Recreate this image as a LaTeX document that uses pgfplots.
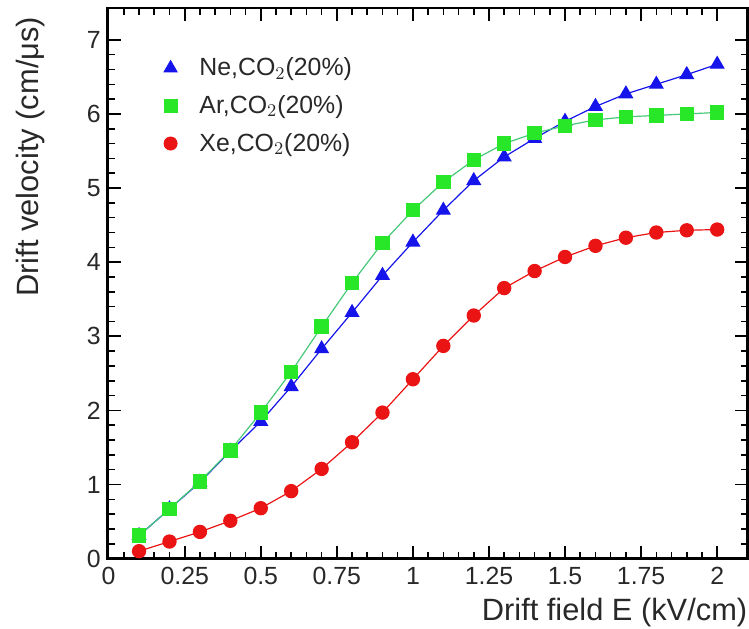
\documentclass[border=0pt]{standalone}
\usepackage{fontspec}
\setmainfont{Liberation Sans}
\usepackage{pgfplots}
\pgfplotsset{compat=1.18}

\definecolor{neblue}{RGB}{20,20,235}
\definecolor{argreen}{RGB}{40,230,40}
\definecolor{argline}{RGB}{70,200,120}
\definecolor{xered}{RGB}{235,20,20}
\definecolor{txt}{RGB}{40,40,40}

\begin{document}
\begin{tikzpicture}
\begin{axis}[
  scale only axis,
  width=320.75bp, height=276bp,
  xmin=-0.003, xmax=2.1,
  ymin=0, ymax=7.43,
  xtick={0,0.25,0.5,0.75,1,1.25,1.5,1.75,2},
  xticklabels={0,0.25,0.5,0.75,1,1.25,1.5,1.75,2},
  ytick={0,1,2,3,4,5,6,7},
  minor x tick num=4,
  minor y tick num=4,
  tick align=inside,
  tick pos=both,
  xticklabel pos=lower, yticklabel pos=left,
  major tick length=6.5bp, minor tick length=3.5bp,
  every tick/.style={black, line width=0.8pt},
  axis line style={black, line width=1.4pt},
  /pgf/number format/assume math mode=true,
  tick label style={font=\fontsize{12.5}{14}\selectfont, text=txt},
  xticklabel style={yshift=-1bp},
  label style={font=\fontsize{15.5}{18}\selectfont, text=txt},
  xlabel={Drift field E (kV/cm)},
  xlabel style={at={(rel axis cs:1,0)}, anchor=east, inner sep=0pt, yshift=-27bp},
  ylabel={Drift velocity (cm/μs)},
  ylabel style={at={([xshift=-38.5bp,yshift=-1bp]rel axis cs:0,1)}, anchor=east},
  legend style={at={(rel axis cs:0.078,0.925)}, anchor=north west, draw=none, fill=none,
    font=\fontsize{12.5}{15}\selectfont, text=txt, row sep=4.4bp},
  legend cell align=left,
  legend image code/.code={\draw[#1] plot coordinates {(0cm,0cm)}; \path[draw=none,fill=none] (0cm,0cm) -- (12.5bp,0cm);},
]
\addlegendimage{only marks, mark=triangle*, mark size=3.8bp, color=neblue}
\addlegendentry{Ne,CO$_2$(20\%)}
\addlegendimage{only marks, mark=square*, mark size=3.3bp, color=argreen}
\addlegendentry{Ar,CO$_2$(20\%)}
\addlegendimage{only marks, mark=*, mark size=3.3bp, color=xered}
\addlegendentry{Xe,CO$_2$(20\%)}

% Ne,CO2(20%)
\addplot[forget plot, color=neblue, line width=0.6pt, mark=triangle*, mark size=3.8bp] coordinates {
  (0.1,0.31) (0.2,0.67) (0.3,1.03) (0.4,1.45) (0.5,1.85)
  (0.6,2.32) (0.7,2.83) (0.8,3.32) (0.9,3.82) (1.0,4.27)
  (1.1,4.70) (1.2,5.10) (1.3,5.42) (1.4,5.67) (1.5,5.90)
  (1.6,6.10) (1.7,6.27) (1.8,6.40) (1.9,6.53) (2.0,6.67)
};
% Ar,CO2(20%)
\addplot[forget plot, color=argline, line width=0.6pt, mark=square*, mark size=3.3bp,
  mark options={color=argreen}] coordinates {
  (0.1,0.31) (0.2,0.67) (0.3,1.04) (0.4,1.46) (0.5,1.97)
  (0.6,2.52) (0.7,3.13) (0.8,3.72) (0.9,4.26) (1.0,4.70)
  (1.1,5.08) (1.2,5.38) (1.3,5.60) (1.4,5.74) (1.5,5.84)
  (1.6,5.92) (1.7,5.96) (1.8,5.98) (1.9,6.00) (2.0,6.02)
};
% Xe,CO2(20%)
\addplot[forget plot, color=xered, line width=0.6pt, mark=*, mark size=3.3bp] coordinates {
  (0.1,0.10) (0.2,0.23) (0.3,0.36) (0.4,0.51) (0.5,0.68)
  (0.6,0.91) (0.7,1.21) (0.8,1.57) (0.9,1.97) (1.0,2.42)
  (1.1,2.87) (1.2,3.28) (1.3,3.65) (1.4,3.88) (1.5,4.07)
  (1.6,4.22) (1.7,4.33) (1.8,4.40) (1.9,4.43) (2.0,4.44)
};
\end{axis}
\path ([xshift=-54bp,yshift=-35bp]current axis.south west) rectangle ([yshift=4bp]current axis.north east);
\end{tikzpicture}
\end{document}
